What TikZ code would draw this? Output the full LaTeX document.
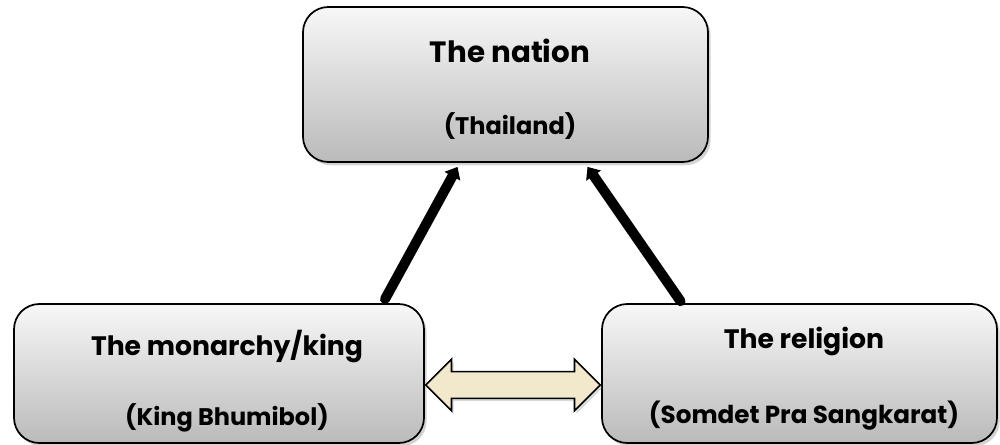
\documentclass[tikz,border=0pt]{standalone}
\usepackage{fontspec}
\setmainfont{Poppins}
\usetikzlibrary{arrows.meta,shadows,shapes.arrows,calc}
\definecolor{creme}{RGB}{242,232,204}
\tikzset{
  box/.style={draw=black, line width=1.3pt, rounded corners=19pt,
    top color=black!3, bottom color=black!27,
    drop shadow={opacity=0.35, shadow xshift=2pt, shadow yshift=-2.5pt}},
  titel/.style={anchor=base, font=\bfseries\fontsize{20}{24}\selectfont},
  unter/.style={anchor=base, font=\bfseries\fontsize{18}{22}\selectfont},
  pfeil/.style={line width=7.5pt, line cap=round, -{Triangle[length=8pt,width=13pt]}},
}
\begin{document}
\begin{tikzpicture}[x=0.75pt,y=-0.75pt]
  \useasboundingbox (0,0) rectangle (1000,444);
  % Kaesten
  \node[box, minimum width=303.75pt, minimum height=116.25pt] (nation) at (505.5,84.5) {};
  \node[box, minimum width=307.5pt, minimum height=104.25pt] (monarchy) at (219,373.5) {};
  \node[box, minimum width=296.25pt, minimum height=104.25pt] (religion) at (799.5,373.5) {};
  % Texte
  \node[titel, font=\bfseries\fontsize{22}{26}\selectfont] (nationtitel) at (510,62) {The nation};
  \node[unter] (nationunter) at (510,134) {(Thailand)};
  \node[titel] (monarchytitel) at (227,355) {The monarchy/king};
  \node[unter] (monarchyunter) at (227,425) {(King Bhumibol)};
  \node[titel] (religiontitel) at (804,348) {The religion};
  \node[unter, font=\bfseries\fontsize{18.5}{22}\selectfont] (religionunter) at (804,423) {(Somdet Pra Sangkarat)};
  % Pfeile
  \draw[pfeil] ($(monarchy.north)+(166,-4)$) -- ($(nation.south)+(-48,4)$);
  \draw[pfeil] ($(religion.north)+(-119,-2)$) -- ($(nation.south)+(82,4)$);
  \node[double arrow, draw=black, line width=1.2pt, fill=creme, inner xsep=0pt, inner ysep=9.4pt,
    minimum height=131pt, minimum width=37.5pt, double arrow head extend=9.4pt,
    drop shadow={opacity=0.3, shadow xshift=1.5pt, shadow yshift=-2pt}]
    (link) at ($(monarchy.east)!0.5!(religion.west)+(0,11.5)$) {};
\end{tikzpicture}
\end{document}
